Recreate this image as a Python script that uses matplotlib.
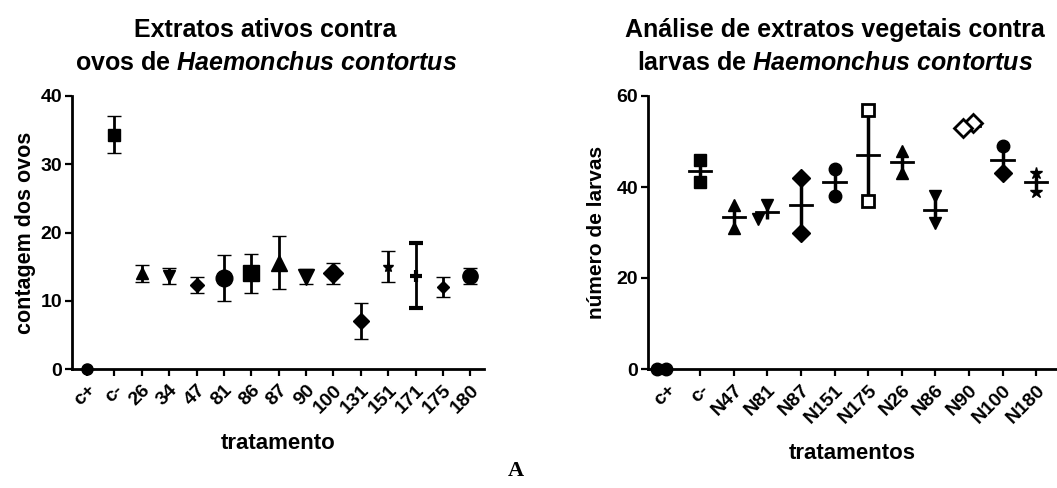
import numpy as np
import matplotlib
matplotlib.use("Agg")
import matplotlib.pyplot as plt

plt.rcParams['font.family'] = ['Liberation Sans', 'DejaVu Sans']
plt.rcParams['font.weight'] = 'bold'
plt.rcParams['mathtext.fontset'] = 'custom'
plt.rcParams['mathtext.it'] = 'Liberation Sans:bold:italic'
plt.rcParams['mathtext.rm'] = 'Liberation Sans:bold'

# ---- left panel data (mean ± error) ----
cats_ovos = ['c+', 'c-', '26', '34', '47', '81', '86', '87', '90', '100',
             '131', '151', '171', '175', '180']
mean_ovos = [0, 34.3, 14.0, 13.6, 12.3, 13.3, 14.0, 15.6, 13.5, 14.0,
             7.0, 15.0, 13.65, 12.05, 13.6]
err_ovos = [0, 2.7, 1.2, 1.2, 1.2, 3.35, 2.8, 3.95, 1.1, 1.5,
            2.65, 2.3, 4.75, 1.45, 1.2]
mk_ovos = ['o', 's', '^', 'v', 'D', 'o', 's', '^', 'v', 'D', 'D', '*', '+', 'D', 'o']
ms_ovos = [8, 8, 8, 9, 7, 12, 11, 11, 11, 10, 8, 8, 9, 6, 11]

# ---- right panel data (two replicates per treatment) ----
cats_larvas = ['c+', 'c-', 'N47', 'N81', 'N87', 'N151', 'N175', 'N26',
               'N86', 'N90', 'N100', 'N180']
larvas_a = [0, 46, 36, 36, 42, 44, 57, 48, 38, 54, 49, 43]
larvas_b = [0, 41, 31, 33, 30, 38, 37, 43, 32, 53, 43, 39]
jit_a = [0, 0, 0, 0, 0, 0, 0, 0, 0, 0.12, 0, 0]
jit_b = [-0.27, 0, 0, -0.27, 0, 0, 0, 0, 0, -0.18, 0, 0]
mk_a = ['o', 's', '^', 'v', 'D', 'o', 's', '^', 'v', 'D', 'o', '*']
mk_b = ['o', 's', '^', 'v', 'D', 'o', 's', '^', 'v', 'D', 'D', '*']
open_mk = [False, False, False, False, False, False, True, False, False, True, False, False]

fig = plt.figure(figsize=(10.57, 4.88), dpi=100)

def style_axes(ax):
    for s in ['top', 'right']:
        ax.spines[s].set_visible(False)
    for s in ['left', 'bottom']:
        ax.spines[s].set_linewidth(2)
    ax.tick_params(direction='out', length=5, width=1.6, labelsize=14, pad=2)
    ax.tick_params(axis='x', pad=4)
    for lab in ax.get_yticklabels():
        lab.set_fontweight('bold')

# Left axes
ax1 = fig.add_axes([72/1057, 1-369/488, (484-72)/1057, (369-96)/488])
x1 = np.arange(len(cats_ovos))
for i in x1:
    m = mk_ovos[i]
    ax1.errorbar(i, mean_ovos[i], yerr=err_ovos[i], fmt=m, color='black',
                 ms=ms_ovos[i], mew=3 if m == '+' else 1, elinewidth=2,
                 capsize=5, capthick=2, clip_on=False, zorder=3)
ax1.set_xlim(-0.55, 14.5)
ax1.set_ylim(0, 40)
ax1.set_yticks([0, 10, 20, 30, 40])
ax1.set_xticks(x1)
ax1.set_xticklabels(cats_ovos, rotation=45, ha='right', rotation_mode='anchor',
                    fontweight='bold')
style_axes(ax1)
ax1.set_xlabel('tratamento', fontsize=16, fontweight='bold', labelpad=12)
ax1.set_ylabel('contagem dos ovos', fontsize=15.5, fontweight='bold', labelpad=3)
ax1.set_title('Extratos ativos contra\novos de $\\mathit{Haemonchus\\ contortus}$',
              fontsize=18, fontweight='bold', pad=19, linespacing=1.45, x=0.47)

# Right axes
ax2 = fig.add_axes([648/1057, 1-369/488, (1057-648)/1057, (369-96)/488])
x2 = np.arange(len(cats_larvas))
for i in x2:
    a, b = larvas_a[i], larvas_b[i]
    vals = np.array([a, b])
    mean = vals.mean()
    sem = vals.std(ddof=1) / np.sqrt(len(vals))
    if i > 0:
        ax2.errorbar(i, mean, yerr=sem, fmt='none', ecolor='black',
                     elinewidth=2.5, capsize=0, zorder=2)
        ax2.plot([i - 0.33, i + 0.33], [mean, mean], color='black', lw=2, zorder=2)
    fc = 'white' if open_mk[i] else 'black'
    ax2.plot(i + jit_a[i], a, marker=mk_a[i], ms=9, color='black', mfc=fc,
             mew=2 if open_mk[i] else 1, ls='none', clip_on=False, zorder=3)
    ax2.plot(i + jit_b[i], b, marker=mk_b[i], ms=9, color='black', mfc=fc,
             mew=2 if open_mk[i] else 1, ls='none', clip_on=False, zorder=3)
ax2.set_xlim(-0.55, 11.62)
ax2.set_ylim(0, 60)
ax2.set_yticks([0, 20, 40, 60])
ax2.set_xticks(x2)
ax2.set_xticklabels(cats_larvas, rotation=45, ha='right', rotation_mode='anchor',
                    fontweight='bold')
style_axes(ax2)
ax2.set_xlabel('tratamentos', fontsize=16, fontweight='bold', labelpad=12)
ax2.set_ylabel('número de larvas', fontsize=15, fontweight='bold', labelpad=8)
ax2.set_title('Análise de extratos vegetais contra\nlarvas de $\\mathit{Haemonchus\\ contortus}$',
              fontsize=18, fontweight='bold', pad=19, linespacing=1.45, x=0.457)

fig.text(516/1057, 1-471/488, 'A', fontsize=16, fontweight='bold',
         family='Liberation Serif', ha='center', va='center')

fig.savefig('out.png', dpi=100)
